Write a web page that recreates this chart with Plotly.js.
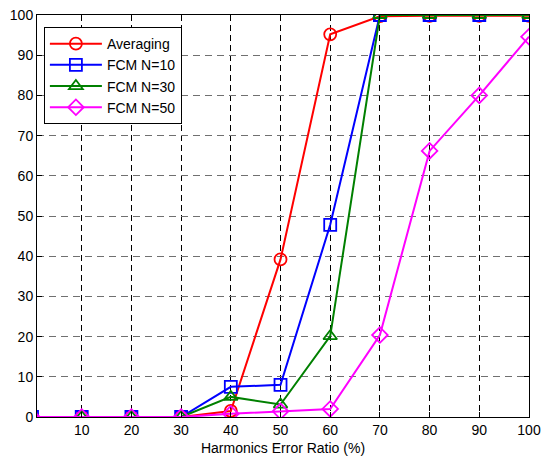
<!DOCTYPE html>
<html>
<head>
<meta charset="utf-8">
<script src="https://cdn.plot.ly/plotly-3.0.1.min.js"></script>
<style>html,body{margin:0;padding:0;background:#fff;}#chart{width:541px;height:458px;}</style>
</head>
<body>
<div id="chart"></div>
<script>
var xValues = [0, 10, 20, 30, 40, 50, 60, 70, 80, 90, 100];
var averaging = [0, 0, 0, 0, 1.5, 39.2, 95.2, 99.7, 99.8, 99.8, 99.8];
var fcm10 = [0, 0, 0, 0, 7.5, 8.0, 47.8, 100, 100, 100, 100];
var fcm30 = [0, 0, 0, 0, 5.0, 3.1, 20.1, 100, 100, 100, 100];
var fcm50 = [0, 0, 0, 0, 0.8, 1.4, 2.0, 20.4, 66.2, 80.0, 94.6];
var seriesNames = ['Averaging', 'FCM N=10', 'FCM N=30', 'FCM N=50'];
var xTicks = [10, 20, 30, 40, 50, 60, 70, 80, 90, 100];
var yTicks = [0, 10, 20, 30, 40, 50, 60, 70, 80, 90, 100];

var styles = [
  {color: '#ff0000', symbol: 'circle-open'},
  {color: '#0000ff', symbol: 'square-open'},
  {color: '#008000', symbol: 'triangle-up-open'},
  {color: '#ff00ff', symbol: 'diamond-open'}
];
var ys = [averaging, fcm10, fcm30, fcm50];
var traces = ys.map(function(y, i) {
  return {
    x: xValues, y: y, name: seriesNames[i], type: 'scatter', mode: 'lines+markers',
    line: {color: styles[i].color, width: 2},
    marker: {symbol: styles[i].symbol, size: 12, color: styles[i].color, line: {width: 1.8, color: styles[i].color}},
    cliponaxis: true
  };
});

var layout = {
  width: 541, height: 458,
  margin: {l: 37, r: 12, t: 15, b: 41},
  paper_bgcolor: '#fff', plot_bgcolor: '#fff',
  font: {family: 'Liberation Sans, Arial, sans-serif', size: 14, color: '#000'},
  showlegend: true,
  legend: {
    x: 0.014, y: 0.97, xanchor: 'left', yanchor: 'top',
    bgcolor: '#fff', bordercolor: '#000', borderwidth: 1,
    font: {size: 14, color: '#000'}, tracegroupgap: 0, itemwidth: 52,
    entrywidth: 88, entrywidthmode: 'pixels'
  },
  xaxis: {
    range: [1, 100], tickvals: xTicks, ticktext: xTicks.map(String),
    showline: true, linecolor: '#000', linewidth: 1, mirror: 'ticks',
    ticks: 'inside', ticklen: 5, tickcolor: '#000', ticklabeloverflow: 'allow',
    showgrid: true, gridcolor: '#000', gridwidth: 1, griddash: '6px,4px',
    zeroline: false,
    title: {text: 'Harmonics Error Ratio (%)', font: {size: 14}, standoff: 6}
  },
  yaxis: {
    range: [0, 100], tickvals: yTicks, ticktext: yTicks.map(String),
    showline: true, linecolor: '#000', linewidth: 1, mirror: 'ticks',
    ticks: 'inside', ticklen: 5, tickcolor: '#000',
    showgrid: true, gridcolor: '#707070', gridwidth: 1, griddash: '7px,5px',
    zeroline: false
  }
};
Plotly.newPlot('chart', traces, layout, {displayModeBar: false, staticPlot: true});
</script>
</body>
</html>
